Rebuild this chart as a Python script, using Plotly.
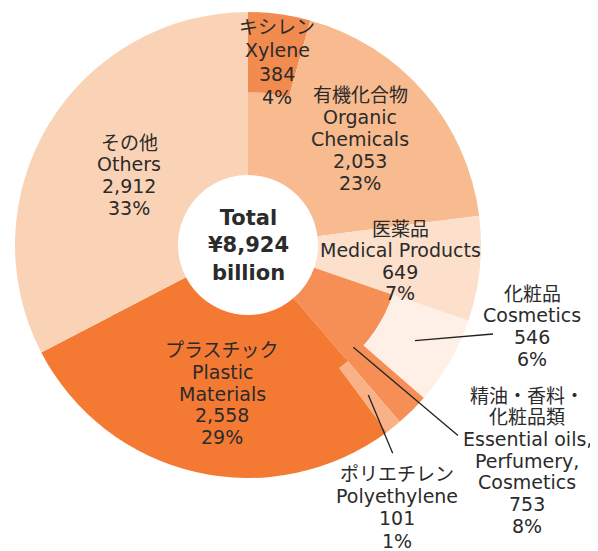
import plotly.graph_objects as go

# ---------------- data ----------------
TOTAL = 8924
main_jp = ["有機化合物", "医薬品", "精油・香料・化粧品類", "プラスチック", "その他"]
main_en = ["Organic Chemicals", "Medical Products", "Essential oils, Perfumery, Cosmetics",
           "Plastic Materials", "Others"]
main_values = [2053, 649, 753, 2558, 2912]
main_colors = ["#f8ba8f", "#fde0cc", "#f58f56", "#f47a34", "#fad3b6"]

sub_jp = ["キシレン", "化粧品", "ポリエチレン"]
sub_en = ["Xylene", "Cosmetics", "Polyethylene"]
sub_values = [384, 546, 101]
sub_parent = [0, 2, 3]          # index of parent category
sub_colors = ["#f28b4f", "#fef0e6", "#f9b287"]

# ---------------- geometry (pixels in the screenshot) ----------------
W, H = 598, 551
OFF = 8                          # page body margin
CX, CY = 248, 245
R_OUT, R_MID, R_HOLE = 233, 152, 70


def px(x):
    return (x - OFF) / W


def py(y):
    return (H - (y - OFF)) / H


# outer ring: sub-category first, then the rest of its parent
outer_vals, outer_cols = [], []
for i, (v, c) in enumerate(zip(main_values, main_colors)):
    if i in sub_parent:
        k = sub_parent.index(i)
        outer_vals += [sub_values[k], v - sub_values[k]]
        outer_cols += [sub_colors[k], c]
    else:
        outer_vals.append(v)
        outer_cols.append(c)


def dom(r):
    return dict(x=[px(CX - r), px(CX + r)], y=[py(CY + r), py(CY - r)])


fig = go.Figure()
fig.add_trace(go.Pie(values=outer_vals, marker=dict(colors=outer_cols, line=dict(width=0)),
                     sort=False, direction="clockwise", rotation=0, hole=(R_MID - 2) / R_OUT,
                     textinfo="none", hoverinfo="skip", domain=dom(R_OUT), showlegend=False))
fig.add_trace(go.Pie(values=main_values, marker=dict(colors=main_colors, line=dict(width=0)),
                     sort=False, direction="clockwise", rotation=0, hole=R_HOLE / (R_MID + 1),
                     textinfo="none", hoverinfo="skip", domain=dom(R_MID + 1), showlegend=False))

FONT = "DejaVu Sans, Noto Sans CJK JP, sans-serif"
TXT = "#2b2b2b"
SIZE = 19


def pct(v):
    return f"{round(100 * v / TOTAL)}%"


def add_block(lines, x, y0, dy=22.0):
    for i, t in enumerate(lines):
        fig.add_annotation(x=px(x), y=py(y0 + i * dy), xref="paper", yref="paper",
                           text=t, showarrow=False, xanchor="center", yanchor="middle",
                           font=dict(family=FONT, size=SIZE, color=TXT))


# main labels
add_block([main_jp[0], "Organic", "Chemicals", f"{main_values[0]:,}", pct(main_values[0])], 360, 95)
add_block([main_jp[1], main_en[1], f"{main_values[1]:,}", pct(main_values[1])], 400, 229, 21.3)
add_block(["精油・香料・", "化粧品類", "Essential oils,", "Perfumery,", "Cosmetics",
           f"{main_values[2]:,}", pct(main_values[2])], 527, 395.5, 21.7)
add_block([main_jp[3], "Plastic", "Materials", f"{main_values[3]:,}", pct(main_values[3])], 222, 350, 21.8)
add_block([main_jp[4], main_en[4], f"{main_values[4]:,}", pct(main_values[4])], 129, 142.5, 21.8)
# sub labels
add_block([sub_jp[0], sub_en[0], f"{sub_values[0]:,}", pct(sub_values[0])], 277, 27, 23.3)
add_block([sub_jp[1], sub_en[1], f"{sub_values[1]:,}", pct(sub_values[1])], 532, 293.5, 21.9)
add_block([sub_jp[2], sub_en[2], f"{sub_values[2]:,}", pct(sub_values[2])], 397, 473.5, 22.4)

# center total
fig.add_annotation(x=px(CX), y=py(CY), xref="paper", yref="paper", showarrow=False,
                   text=f"<b>Total<br>¥{TOTAL:,}<br>billion</b>", align="center",
                   font=dict(family="DejaVu Sans, sans-serif", size=21, color=TXT))

# leader lines
for (x0, y0, x1, y1) in [(415, 340.7, 493, 334), (353.3, 347.3, 458, 435.5), (368.3, 395, 392.7, 453.3)]:
    fig.add_shape(type="line", xref="paper", yref="paper", x0=px(x0), y0=py(y0),
                  x1=px(x1), y1=py(y1), line=dict(color="#222222", width=1.3))

fig.update_layout(width=W, height=H, margin=dict(l=0, r=0, t=0, b=0),
                  paper_bgcolor="white", plot_bgcolor="white")
fig.write_html("out.html")
